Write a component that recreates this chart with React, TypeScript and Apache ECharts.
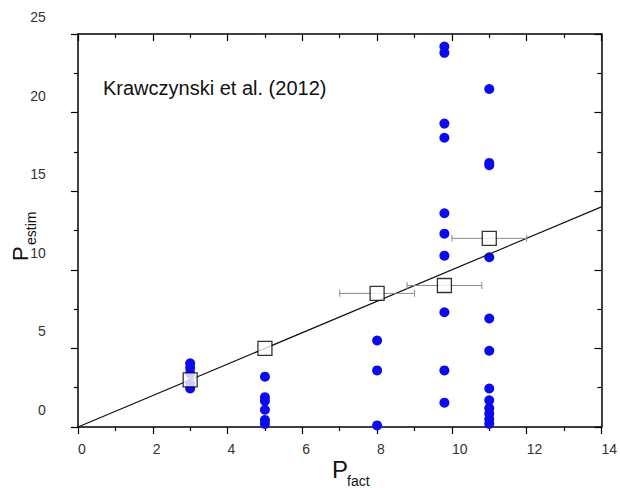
import React, { useEffect, useRef } from "react";
import * as echarts from "echarts";

// Individual estimates, grouped by the actual value they belong to
const dotsAt3 = [4.05, 3.75, 3.4, 2.75, 2.45];
const dotsAt5 = [3.2, 1.9, 1.65, 1.1, 0.45, 0.2];
const dotsAt8 = [5.5, 3.6, 0.1];
const dotsAt98 = [24.2, 23.8, 19.3, 18.4, 13.6, 12.3, 10.9, 7.3, 3.6, 1.55];
const dotsAt11 = [21.5, 16.8, 16.65, 10.8, 6.9, 4.85, 2.45, 1.7, 1.2, 0.85, 0.5, 0.2];
const dotColumnsX = [3, 5, 8, 9.8, 11];
const dotColumnsY = [dotsAt3, dotsAt5, dotsAt8, dotsAt98, dotsAt11];

// Group means with horizontal spread
const meanX = [3, 5, 8, 9.8, 11];
const meanY = [3.0, 5.0, 8.5, 9.0, 12.0];
const meanXErr = [0, 0, 1, 1, 1];

// Reference line P_estim = slope * P_fact
const fitSlope = 1;
const fitRange = [0, 14];

const xTicks = { min: 0, max: 14, step: 2 };
const yTicks = { min: 0, max: 25, step: 5 };

const FONT = "Liberation Sans, Arial, sans-serif";

export default function App() {
  const ref = useRef<HTMLDivElement>(null);

  useEffect(() => {
    if (!ref.current) return;
    const chart = echarts.init(ref.current, null, { renderer: "svg" });

    const dots: number[][] = [];
    dotColumnsX.forEach((x, i) => dotColumnsY[i].forEach((y) => dots.push([x, y])));
    const means = meanX.map((x, i) => [x, meanY[i]]);
    const errs = meanX.map((x, i) => [x, meanY[i], meanXErr[i]]);
    const fit = fitRange.map((x) => [x, fitSlope * x]);

    const axisLine = { show: true, onZero: false, lineStyle: { color: "#000", width: 1.5 } };
    const tickStyle = { color: "#000", width: 1.2 };

    const baseX = {
      type: "value" as const,
      min: xTicks.min,
      max: xTicks.max,
      interval: xTicks.step,
      splitLine: { show: false },
      axisLine,
      minorTick: { show: true, splitNumber: 2, length: 4, lineStyle: tickStyle },
    };
    const baseY = {
      type: "value" as const,
      min: yTicks.min,
      max: yTicks.max,
      interval: yTicks.step,
      splitLine: { show: false },
      axisLine,
      minorTick: { show: true, splitNumber: 2, length: 4, lineStyle: tickStyle },
    };

    chart.setOption({
      animation: false,
      backgroundColor: "#fff",
      grid: { left: 78, right: 17, top: 34, bottom: 61, containLabel: false },
      xAxis: [
        {
          ...baseX,
          position: "bottom",
          axisTick: { show: true, inside: false, length: 7, lineStyle: tickStyle },
          axisLabel: {
            show: true,
            align: "left",
            margin: 15,
            color: "#333",
            fontSize: 14,
            fontFamily: FONT,
          },
        },
        {
          ...baseX,
          position: "top",
          axisTick: { show: true, inside: true, length: 7, lineStyle: tickStyle },
          axisLabel: { show: false },
        },
      ],
      yAxis: [
        {
          ...baseY,
          position: "left",
          axisTick: { show: true, inside: false, length: 7, lineStyle: tickStyle },
          axisLabel: {
            show: true,
            margin: 32,
            color: "#333",
            fontSize: 14,
            fontFamily: FONT,
            // labels sit a little above their ticks: a tall spacer token
            // makes the line taller and the number rides at its top
            formatter: (v: number) => `{v|${v}}{s| }`,
            rich: {
              v: { fontSize: 14, lineHeight: 14, verticalAlign: "top", color: "#333", fontFamily: FONT },
              s: { fontSize: 1, lineHeight: 48 },
            },
          },
        },
        {
          ...baseY,
          position: "right",
          axisTick: { show: true, inside: true, length: 7, lineStyle: tickStyle },
          axisLabel: { show: false },
        },
      ],
      series: [
        {
          type: "scatter",
          data: dots,
          symbol: "circle",
          symbolSize: 10,
          itemStyle: { color: "#0b0bee", opacity: 1 },
          z: 2,
        },
        {
          type: "line",
          data: fit,
          showSymbol: false,
          symbol: "none",
          lineStyle: { color: "#111", width: 1.2 },
          z: 3,
        },
        {
          type: "custom",
          data: errs,
          encode: { x: 0, y: 1 },
          z: 4,
          renderItem: (params: any, api: any) => {
            const x = api.value(0);
            const y = api.value(1);
            const e = api.value(2);
            if (!e) return { type: "group", children: [] };
            const l = api.coord([x - e, y]);
            const r = api.coord([x + e, y]);
            const cap = 3.5;
            const style = { stroke: "#8c8c8c", lineWidth: 1 };
            return {
              type: "group",
              children: [
                { type: "line", shape: { x1: l[0], y1: l[1], x2: r[0], y2: r[1] }, style },
                { type: "line", shape: { x1: l[0], y1: l[1] - cap, x2: l[0], y2: l[1] + cap }, style },
                { type: "line", shape: { x1: r[0], y1: r[1] - cap, x2: r[0], y2: r[1] + cap }, style },
              ],
            };
          },
        },
        {
          type: "scatter",
          data: means,
          symbol: "rect",
          symbolSize: 14,
          itemStyle: { color: "#fff", borderColor: "#000", borderWidth: 1.3 },
          z: 5,
        },
      ],
      graphic: [
        {
          type: "text",
          left: 103,
          top: 78,
          style: { text: "Krawczynski et al. (2012)", fontSize: 20, fontFamily: FONT, fill: "#111" },
        },
        {
          type: "text",
          x: 332,
          y: 469,
          style: { text: "P", fontSize: 24, fontFamily: FONT, fill: "#111", align: "left", verticalAlign: "middle" },
        },
        {
          type: "text",
          x: 347,
          y: 474,
          style: { text: "fact", fontSize: 14, fontFamily: FONT, fill: "#111", align: "left", verticalAlign: "top" },
        },
        {
          type: "text",
          x: 20,
          y: 261,
          rotation: Math.PI / 2,
          style: { text: "P", fontSize: 22, fontFamily: FONT, fill: "#111", align: "left", verticalAlign: "middle" },
        },
        {
          type: "text",
          x: 31,
          y: 245,
          rotation: Math.PI / 2,
          style: { text: "estim", fontSize: 14, fontFamily: FONT, fill: "#111", align: "left", verticalAlign: "middle" },
        },
      ],
    });

    return () => chart.dispose();
  }, []);

  return (
    <div
      ref={ref}
      style={{ position: "fixed", left: 0, top: 0, width: 620, height: 488 }}
    />
  );
}
